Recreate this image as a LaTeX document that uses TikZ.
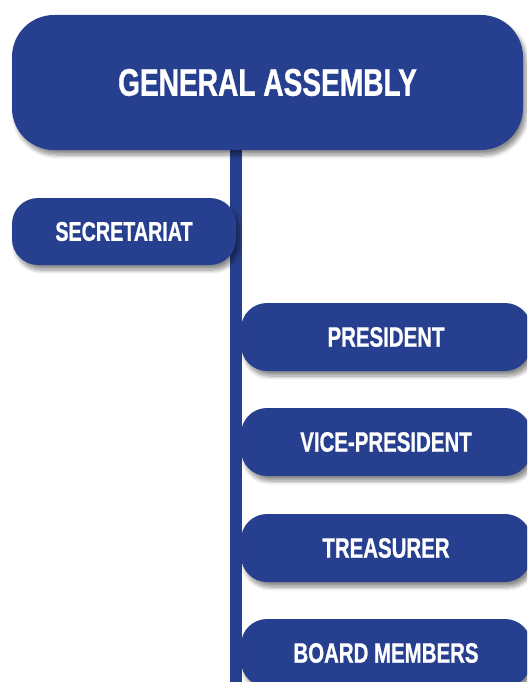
\documentclass[tikz,border=0pt]{standalone}
\usepackage{fontspec}
\newfontfamily\orgfont{Liberation Sans}[FakeStretch=0.73, FakeBold=0.8]
\usepackage{tikz}
\usetikzlibrary{shapes,positioning,shadows.blur,backgrounds}
\definecolor{orgblue}{RGB}{39,63,143}

\tikzset{
    orgbox/.style={fill=orgblue, text=white, font=\orgfont\bfseries, inner sep=0pt,
        blur shadow={shadow xshift=3pt, shadow yshift=-5pt, shadow blur steps=8,
            shadow blur radius=4pt, shadow opacity=45}},
    postbox/.style={orgbox, minimum width=290pt, minimum height=68pt, rounded corners=26pt,
        font=\orgfont\bfseries\fontsize{28}{30}\selectfont}
}

\begin{document}
\begin{tikzpicture}[x=1pt, y=-1pt]
    \useasboundingbox (0,0) rectangle (527,682);
    \clip (0,0) rectangle (527,682);

    \node[orgbox, minimum width=511pt, minimum height=135pt, rounded corners=42pt,
        font=\orgfont\bfseries\fontsize{38.5}{40}\selectfont] (assembly) at (267.5,82.5) {GENERAL ASSEMBLY};

    \node[orgbox, minimum width=224pt, minimum height=67pt, rounded corners=26pt,
        font=\orgfont\bfseries\fontsize{27}{29}\selectfont] (secretariat) at (124,231.5) {SECRETARIAT};

    \node[postbox] (president) at (386,337) {PRESIDENT};
    \node[postbox] (vicepresident) at (386,442) {VICE-PRESIDENT};
    \node[postbox] (treasurer) at (386,548) {TREASURER};
    \node[postbox] (board) at (386,653) {BOARD MEMBERS};

    \coordinate (bottom) at (236,690);

    \begin{pgfonlayer}{background}
        \draw[orgblue, line width=12pt] (assembly.south -| bottom) -- (bottom);
    \end{pgfonlayer}
\end{tikzpicture}
\end{document}
